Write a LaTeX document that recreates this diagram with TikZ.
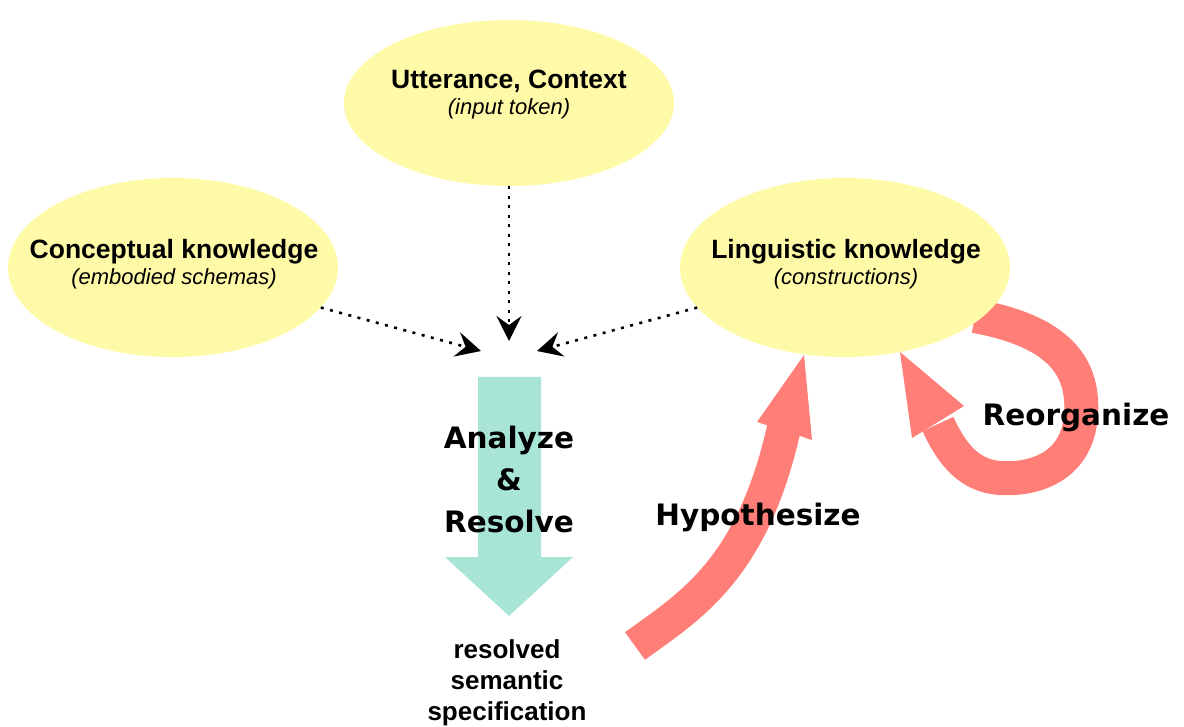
\documentclass[tikz,border=0pt]{standalone}
\usepackage{fontspec}
\setmainfont{Liberation Sans}
\newfontfamily\heavyfont{DejaVu Sans}
\usetikzlibrary{arrows.meta,shapes.geometric}

\definecolor{blobfill}{HTML}{FFFAA8}
\definecolor{flowfill}{HTML}{A8E5D6}
\definecolor{loopred}{HTML}{FF7F78}

\tikzset{
  blob/.style={ellipse, fill=blobfill, draw=none, inner sep=0pt},
  headtxt/.style={anchor=base, inner sep=0pt, font=\fontsize{26.5}{30}\selectfont\bfseries},
  subtxt/.style={anchor=base, inner sep=0pt, font=\fontsize{22}{25}\selectfont\itshape},
  bigtxt/.style={inner sep=0pt, align=center, font=\heavyfont\bfseries\fontsize{29.5}{42}\selectfont},
  smalltxt/.style={anchor=base, inner sep=0pt, font=\fontsize{26}{31}\selectfont\bfseries},
  feed/.style={line width=2.6pt, dash pattern=on 3pt off 6.5pt,
    -{Stealth[length=25pt, width=25pt, inset=9pt]}},
  fatpath/.style={line width=34pt, draw=loopred},
}

\begin{document}
\begin{tikzpicture}[x=1pt, y=-1pt]
\useasboundingbox (0,0) rectangle (1184,727);

% learning loops (drawn first, the knowledge blobs sit on top)
\coordinate (hypTail) at (635,646);
\coordinate (hypBase) at (784,428);
\coordinate (hypTip) at (804,355);
\draw[fatpath, line cap=butt] (hypTail) .. controls (690,606) and (752,570) .. (hypBase);
\fill[loopred] (hypTip) -- (812,440) -- (757,422) -- cycle;

\coordinate (reoTail) at (975,316);
\coordinate (reoBase) at (938,424);
\coordinate (reoTip) at (900,352);
\draw[fatpath, line cap=butt] (reoTail) .. controls (1050,330) and (1085,360) .. (1081,415)
  .. controls (1077,470) and (1030,480) .. (1000,478)
  .. controls (970,476) and (952,455) .. (reoBase);
\fill[loopred] (reoTip) -- (964,406) -- (912,438) -- cycle;

% knowledge sources
\node[blob, minimum width=330pt, minimum height=166pt] (utt) at (509,103) {};
\node[blob, minimum width=330pt, minimum height=179pt] (concept) at (173,267.5) {};
\node[blob, minimum width=330pt, minimum height=179pt] (ling) at (845,267.5) {};

\node[headtxt] (uttT) at (509,89) {Utterance, Context};
\node[subtxt] (uttS) at (509,115) {(input token)};
\node[headtxt] (conceptT) at (174,259) {Conceptual knowledge};
\node[subtxt] (conceptS) at (174,285) {(embodied schemas)};
\node[headtxt] (lingT) at (846,259) {Linguistic knowledge};
\node[subtxt] (lingS) at (846,285) {(constructions)};

% inputs converging on the analysis
\coordinate (inTop) at (509,341);
\coordinate (inLeft) at (481,351);
\coordinate (inRight) at (537,351);
\draw[feed] (utt) -- (inTop);
\draw[feed] (concept) -- (inLeft);
\draw[feed] (ling) -- (inRight);

% analysis arrow
\fill[flowfill] (478,377) -- (541,377) -- (541,557) -- (573,557) -- (509,616)
  -- (445,557) -- (478,557) -- cycle;
\node[bigtxt] (analyze) at (509,480) {Analyze\\\&\\Resolve};

% outcome of the analysis
\node[smalltxt] (res1) at (507,658) {resolved};
\node[smalltxt] (res2) at (507,689) {semantic};
\node[smalltxt] (res3) at (507,720) {specification};

\node[bigtxt] (hyp) at (758,517) {Hypothesize};
\node[bigtxt] (reo) at (1076,417) {Reorganize};
\end{tikzpicture}
\end{document}
